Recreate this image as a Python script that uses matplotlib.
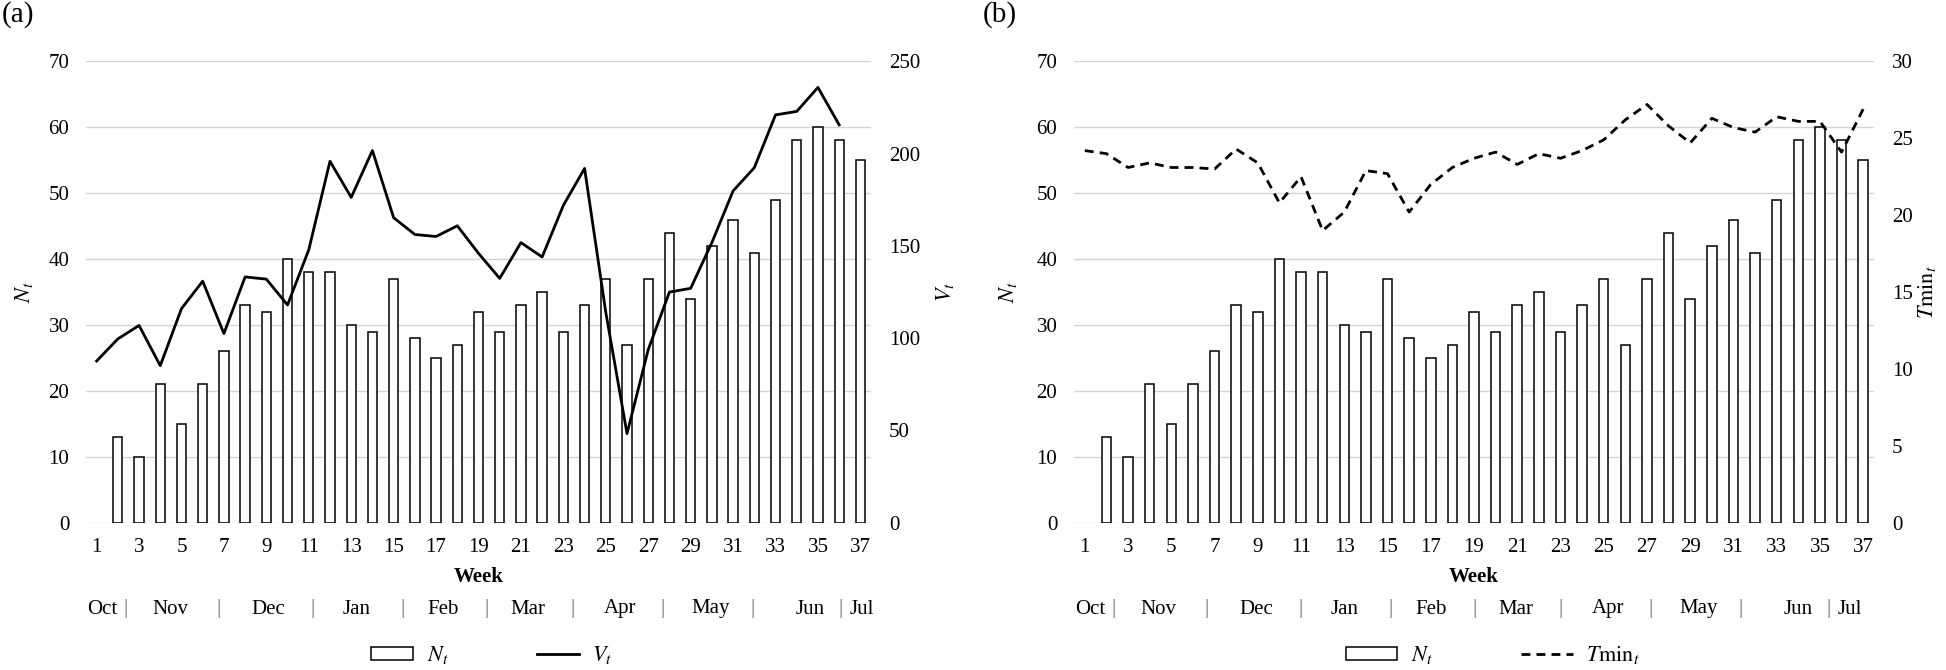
import matplotlib
matplotlib.use("Agg")
import matplotlib.pyplot as plt
from matplotlib.patches import Patch
from matplotlib.lines import Line2D
import numpy as np

# ---------------- data ----------------
weeks = list(range(1, 38))
N_t = [0, 13, 10, 21, 15, 21, 26, 33, 32, 40, 38, 38, 30, 29, 37, 28, 25, 27, 32,
       29, 33, 35, 29, 33, 37, 27, 37, 44, 34, 42, 46, 41, 49, 58, 60, 58, 55]
V_t = [87.6, 99.6, 106.9, 85.1, 116.0, 130.9, 102.5, 133.2, 132.0, 118.0, 147.9,
       195.9, 176.3, 201.7, 165.3, 156.2, 155.1, 160.9, 146.0, 132.4, 151.8, 144.0,
       172.0, 192.0, 114.0, 48.3, 93.8, 125.0, 127.0, 151.8, 179.8, 192.4, 221.0,
       222.9, 235.9, 215.6, np.nan]
Tmin_t = [24.2, 24.0, 23.1, 23.4, 23.1, 23.1, 23.0, 24.3, 23.4, 20.8, 22.5, 19.0,
          20.2, 22.9, 22.7, 20.2, 22.0, 23.1, 23.7, 24.1, 23.3, 24.0, 23.7, 24.2,
          24.9, 26.2, 27.2, 25.8, 24.7, 26.3, 25.7, 25.4, 26.4, 26.1, 26.1, 24.1, 26.9]
months = ["Oct", "Nov", "Dec", "Jan", "Feb", "Mar", "Apr", "May", "Jun", "Jul"]
left_ticks = list(range(0, 71, 10))
right_ticks_a = list(range(0, 251, 50))
right_ticks_b = list(range(0, 31, 5))
x_ticks = list(range(1, 38, 2))

# ---------------- style ----------------
plt.rcParams["font.family"] = ["Liberation Serif", "DejaVu Serif"]
plt.rcParams["mathtext.fontset"] = "stix"
FS = 15

W, H = 1946, 670
fig = plt.figure(figsize=(W / 100, H / 100), dpi=100)

def fx(px):
    return px / W

def fy(py):
    return 1 - py / H

ax_top, ax_bot = 61.4, 522.7
panels = [
    dict(left=86, right=871, line=V_t, rlim=250, rticks=right_ticks_a,
         rlabel="$V_t$", ls="-", tag="(a)", tagx=2, nlabx=24, rlabx=945,
         monthx0=0, leg_cx=492, hl=2.0),
    dict(left=1074, right=1874, line=Tmin_t, rlim=30, rticks=right_ticks_b,
         rlabel="$T\\mathrm{min}_t$", ls=(0, (3.2, 2.2)), tag="(b)", tagx=983,
         nlabx=1008, rlabx=1927, monthx0=988, leg_cx=1493, hl=2.45),
]

# month label layout (pixel centres for panel a); separators between
month_px = [102, 170, 268, 357, 443, 528, 620, 711, 810, 862]
sep_px = [125.5, 219, 312, 402, 487, 573, 663, 753, 840]

for p in panels:
    ax = fig.add_axes([fx(p["left"]), fy(ax_bot), fx(p["right"] - p["left"]),
                       (ax_bot - ax_top) / H])
    bars = ax.bar(weeks, N_t, width=0.44, facecolor="white", edgecolor="black",
                  linewidth=1.1, zorder=3)
    for b, v in zip(bars, N_t):
        if v == 0:
            b.set_visible(False)
    ax.set_xlim(0.5, 37.5)
    ax.set_ylim(0, 70)
    ax.set_yticks(left_ticks)
    ax.set_xticks(x_ticks)
    ax.grid(axis="y", color="#d4d4d4", linewidth=1.0, zorder=0)
    ax.set_axisbelow(True)
    for s in ax.spines.values():
        s.set_visible(False)
    ax.tick_params(axis="y", length=0, pad=12, labelsize=FS)
    ax.tick_params(axis="x", length=0, pad=11, labelsize=FS)

    ax2 = ax.twinx()
    ax2.plot(weeks, p["line"], color="black", linewidth=2.0, linestyle=p["ls"],
             zorder=4)
    ax2.set_ylim(0, p["rlim"])
    ax2.set_yticks(p["rticks"])
    for s in ax2.spines.values():
        s.set_visible(False)
    ax2.tick_params(axis="y", length=0, pad=13, labelsize=FS)

    # axis titles
    fig.text(fx(p["nlabx"]), fy((ax_top + ax_bot) / 2), "$N_t$", rotation=90,
             ha="center", va="center", fontsize=FS + 1)
    fig.text(fx(p["rlabx"]), fy((ax_top + ax_bot) / 2), p["rlabel"], rotation=90,
             ha="center", va="center", fontsize=FS + 1)
    fig.text(fx((p["left"] + p["right"]) / 2), fy(577), "Week", ha="center",
             va="center", fontsize=FS, fontweight="bold")
    fig.text(fx(p["tagx"]), fy(1), p["tag"], ha="left", va="top", fontsize=21)

    # month row
    for m, mx in zip(months, month_px):
        fig.text(fx(mx + p["monthx0"]), fy(609), m, ha="center", va="center",
                 fontsize=FS)
    for sx in sep_px:
        fig.text(fx(sx + p["monthx0"]), fy(608), "|", ha="center", va="center",
                 fontsize=FS, color="#666666")

    # legend
    handles = [Patch(facecolor="white", edgecolor="black", linewidth=1.1),
               Line2D([], [], color="black", linewidth=2.0, linestyle=p["ls"])]
    labels = ["$N_t$", p["rlabel"]]
    fig.legend(handles, labels, loc="center",
               bbox_to_anchor=(fx(p["leg_cx"]), fy(655)), ncol=2, frameon=False,
               fontsize=FS + 1, handlelength=p["hl"] * 0.94, handleheight=0.52,
               columnspacing=4.0, handletextpad=0.6)

fig.savefig("out.png", dpi=100)
